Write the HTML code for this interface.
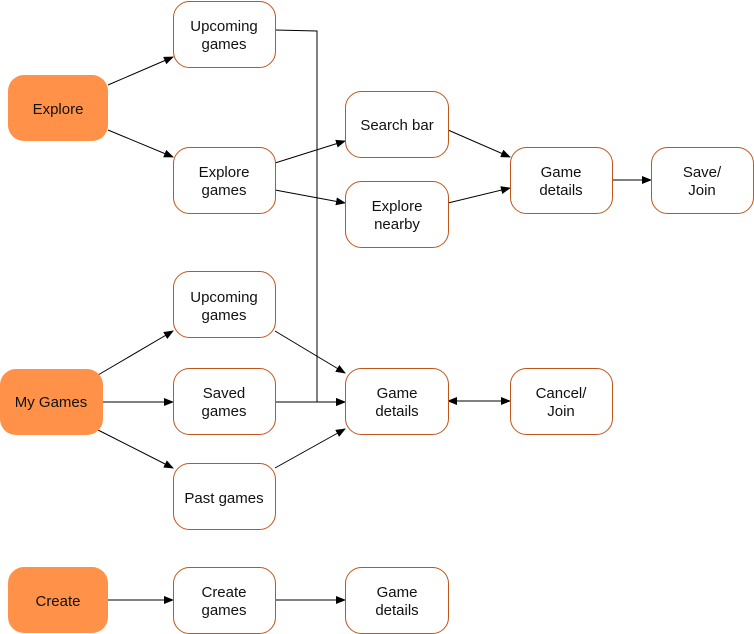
<!DOCTYPE html>
<html><head><style>
body{margin:0;background:#fff;}
svg{display:block;font-family:"Liberation Sans",Arial,sans-serif;font-size:15px;}
</style></head><body>
<svg width="754" height="634" viewBox="0 0 754 634">
<defs><marker id="a" markerWidth="10" markerHeight="8" refX="9" refY="4" orient="auto" markerUnits="userSpaceOnUse"><path d="M0,0 L10,4 L0,8 z" fill="#000"/></marker>
<marker id="b" markerWidth="10" markerHeight="8" refX="1" refY="4" orient="auto" markerUnits="userSpaceOnUse"><path d="M10,0 L0,4 L10,8 z" fill="#000"/></marker></defs>
<g stroke="#000" stroke-width="1" fill="none" marker-end="url(#a)">
<line x1="108" y1="85" x2="173" y2="57"/>
<line x1="108" y1="130" x2="173" y2="157"/>
<line x1="275" y1="163" x2="345" y2="141"/>
<line x1="275" y1="190" x2="345" y2="203"/>
<line x1="448" y1="130" x2="510" y2="157"/>
<line x1="448" y1="203" x2="510" y2="188"/>
<line x1="612" y1="180" x2="651" y2="180"/>
<polyline points="275,30 317,31 317,402 345,402"/>
<line x1="98" y1="375" x2="173" y2="331"/>
<line x1="103" y1="402" x2="173" y2="402"/>
<line x1="98" y1="430" x2="173" y2="468"/>
<line x1="275" y1="331" x2="345" y2="373"/>
<line x1="275" y1="402" x2="345" y2="402"/>
<line x1="275" y1="468" x2="345" y2="429"/>
<line x1="448" y1="401" x2="510" y2="401" marker-start="url(#b)"/>
<line x1="108" y1="600" x2="173" y2="600"/>
<line x1="275" y1="600" x2="345" y2="600"/>
</g>
<g fill="#ff9248">
<rect x="8" y="75" width="100" height="66" rx="16"/>
<rect x="0" y="369" width="103" height="66" rx="16"/>
<rect x="8" y="567" width="100" height="66" rx="16"/>
</g>
<g fill="#fff" stroke="#c0551a" stroke-width="1">
<rect x="173.5" y="1.5" width="102" height="66" rx="16"/>
<rect x="173.5" y="147.5" width="102" height="66" rx="16"/>
<rect x="345.5" y="91.5" width="103" height="66" rx="16"/>
<rect x="345.5" y="181.5" width="103" height="66" rx="16"/>
<rect x="510.5" y="147.5" width="102" height="66" rx="16"/>
<rect x="651.5" y="147.5" width="102" height="66" rx="16"/>
<rect x="173.5" y="271.5" width="102" height="66" rx="16"/>
<rect x="173.5" y="368.5" width="102" height="66" rx="16"/>
<rect x="345.5" y="368.5" width="103" height="66" rx="16"/>
<rect x="510.5" y="368.5" width="102" height="66" rx="16"/>
<rect x="173.5" y="463.5" width="102" height="66" rx="16"/>
<rect x="173.5" y="567.5" width="102" height="66" rx="16"/>
<rect x="345.5" y="567.5" width="103" height="66" rx="16"/>
</g>
<g fill="#111" text-anchor="middle">
<text x="58" y="114">Explore</text>
<text x="51" y="407">My Games</text>
<text x="58" y="606">Create</text>
<text x="224" y="31">Upcoming</text><text x="224" y="49">games</text>
<text x="224" y="177">Explore</text><text x="224" y="195">games</text>
<text x="397" y="130">Search bar</text>
<text x="397" y="211">Explore</text><text x="397" y="229">nearby</text>
<text x="561" y="177">Game</text><text x="561" y="195">details</text>
<text x="702" y="177">Save/</text><text x="702" y="195">Join</text>
<text x="224" y="302">Upcoming</text><text x="224" y="320">games</text>
<text x="224" y="398">Saved</text><text x="224" y="416">games</text>
<text x="397" y="398">Game</text><text x="397" y="416">details</text>
<text x="561" y="398">Cancel/</text><text x="561" y="416">Join</text>
<text x="224" y="503">Past games</text>
<text x="224" y="597">Create</text><text x="224" y="615">games</text>
<text x="397" y="597">Game</text><text x="397" y="615">details</text>
</g>
</svg>
</body></html>
